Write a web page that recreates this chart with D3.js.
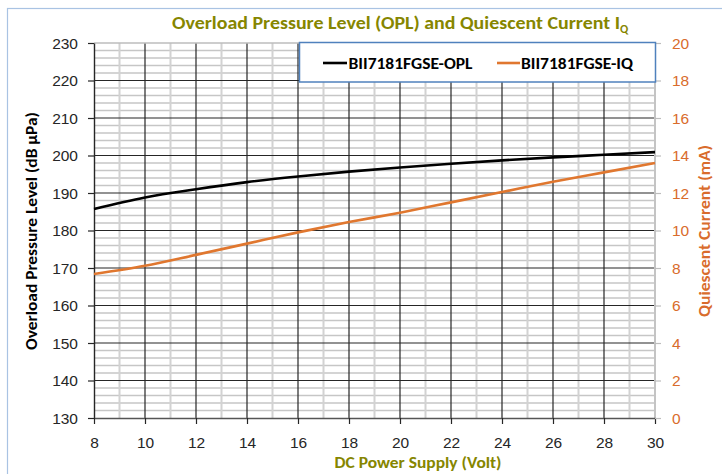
<!DOCTYPE html>
<html>
<head>
<meta charset="utf-8">
<script src="https://cdn.jsdelivr.net/npm/d3@7"></script>
<style>
  html, body { margin: 0; padding: 0; background: #fff; }
  svg { display: block; font-family: Carlito, Calibri, Lato, "Open Sans", sans-serif; }
</style>
</head>
<body>
<svg id="chart" width="722" height="474"></svg>
<script>
// ---------- data ----------
const voltage = [8, 10, 12, 14, 16, 18, 20, 22, 24, 26, 28, 30];
const oplValues = [185.7, 188.8, 191.0, 192.9, 194.4, 195.7, 196.8, 197.8, 198.7, 199.5, 200.2, 200.9];
const iqValues = [7.68, 8.12, 8.7, 9.3, 9.9, 10.45, 10.95, 11.5, 12.05, 12.6, 13.1, 13.6];
const seriesNames = ["BII7181FGSE-OPL", "BII7181FGSE-IQ"];
const xTicks = [8, 10, 12, 14, 16, 18, 20, 22, 24, 26, 28, 30];
const leftTicks = [130, 140, 150, 160, 170, 180, 190, 200, 210, 220, 230];
const rightTicks = [0, 2, 4, 6, 8, 10, 12, 14, 16, 18, 20];
const titleText = "Overload Pressure Level (OPL) and Quiescent Current I";
const titleSub = "Q";
const xTitle = "DC Power Supply (Volt)";
const yLeftTitle = "Overload Pressure Level (dB \u00B5Pa)";
const yRightTitle = "Quiescent Current (mA)";

// ---------- layout ----------
const svg = d3.select("#chart");
const L = 94, R = 655, T = 43, B = 418;
const olive = "#868600", orange = "#e0772f", orangeText = "#d96c2c";

const x = d3.scaleLinear().domain([8, 30]).range([L, R]);
const yL = d3.scaleLinear().domain([130, 230]).range([B, T]);
const yR = d3.scaleLinear().domain([0, 20]).range([B, T]);

// outer chart frame
svg.append("rect").attr("x", 7.5).attr("y", 8.5).attr("width", 800).attr("height", 600)
  .attr("fill", "#fff").attr("stroke", "#a9c3e3").attr("stroke-width", 1.2);

// ---------- grid ----------
const g = svg.append("g");
const minorH = d3.range(130, 231, 2).filter(v => v % 10 !== 0);
g.selectAll(".mh").data(minorH).join("line")
  .attr("x1", L).attr("x2", R).attr("y1", d => yL(d)).attr("y2", d => yL(d))
  .attr("stroke", "#c6c6c6").attr("stroke-width", 1.4);
const minorV = d3.range(9, 30, 2);
g.selectAll(".mv").data(minorV).join("line")
  .attr("y1", T).attr("y2", B).attr("x1", d => x(d)).attr("x2", d => x(d))
  .attr("stroke", "#d2d2d2").attr("stroke-width", 2);
g.selectAll(".Mh").data(leftTicks.filter(v => v !== 130 && v !== 230)).join("line")
  .attr("x1", L).attr("x2", R).attr("y1", d => yL(d)).attr("y2", d => yL(d))
  .attr("stroke", "#262626").attr("stroke-width", 1.2);
g.selectAll(".Mv").data(xTicks.filter(v => v !== 8 && v !== 30)).join("line")
  .attr("y1", T).attr("y2", B).attr("x1", d => x(d)).attr("x2", d => x(d))
  .attr("stroke", "#262626").attr("stroke-width", 1.2);
g.append("line").attr("x1", L).attr("x2", R).attr("y1", T).attr("y2", T)
  .attr("stroke", "#bdbdbd").attr("stroke-width", 1.5);
g.append("line").attr("x1", R).attr("x2", R).attr("y1", T).attr("y2", B)
  .attr("stroke", "#c4c4c4").attr("stroke-width", 2);

// ---------- axes ----------
const axL = svg.append("g").attr("transform", `translate(${L},0)`)
  .call(d3.axisLeft(yL).tickValues(leftTicks).tickSize(6).tickPadding(10).tickSizeOuter(0));
axL.select(".domain").attr("stroke", "#262626").attr("stroke-width", 1.4);
axL.selectAll(".tick line").attr("stroke", "#262626").attr("stroke-width", 1.2);
axL.selectAll("text").attr("font-size", 15.5).attr("fill", "#262626").attr("dy", "0.35em");

const axB = svg.append("g").attr("transform", `translate(0,${B})`)
  .call(d3.axisBottom(x).tickValues(xTicks).tickSize(6).tickPadding(10).tickSizeOuter(0));
axB.select(".domain").attr("stroke", "#555").attr("stroke-width", 1.6);
axB.selectAll(".tick line").attr("stroke", "#262626").attr("stroke-width", 1.2);
axB.selectAll("text").attr("font-size", 15.5).attr("fill", "#262626").attr("y", 29.5).attr("dy", 0);

const axR = svg.append("g").attr("transform", `translate(${R},0)`)
  .call(d3.axisRight(yR).tickValues(rightTicks).tickSize(6).tickPadding(11).tickSizeOuter(0));
axR.select(".domain").remove();
axR.selectAll(".tick line").attr("stroke", "#bdbdbd").attr("stroke-width", 1.2);
axR.selectAll("text").attr("font-size", 15.5).attr("fill", orangeText).attr("dy", "0.35em");

svg.selectAll(".tick text").attr("font-family", null);

// ---------- lines ----------
const lineL = d3.line().x((d, i) => x(voltage[i])).y(d => yL(d)).curve(d3.curveMonotoneX);
const lineR = d3.line().x((d, i) => x(voltage[i])).y(d => yR(d)).curve(d3.curveMonotoneX);
svg.append("path").datum(iqValues).attr("d", lineR)
  .attr("fill", "none").attr("stroke", orange).attr("stroke-width", 2.6);
svg.append("path").datum(oplValues).attr("d", lineL)
  .attr("fill", "none").attr("stroke", "#000").attr("stroke-width", 2.6);

// ---------- legend ----------
const lg = svg.append("g");
lg.append("rect").attr("x", 299.5).attr("y", 42.5).attr("width", 356).attr("height", 39.5)
  .attr("fill", "#fff").attr("stroke", "#4f81bd").attr("stroke-width", 1.5);
const legendItems = [
  { name: seriesNames[0], color: "#000", x1: 323, x2: 347, tx: 348.5, tw: 124 },
  { name: seriesNames[1], color: orange, x1: 497, x2: 520, tx: 521, tw: 112 }
];
legendItems.forEach(it => {
  lg.append("line").attr("x1", it.x1).attr("x2", it.x2).attr("y1", 63).attr("y2", 63)
    .attr("stroke", it.color).attr("stroke-width", 2.6);
  lg.append("text").attr("x", it.tx).attr("y", 68.5).text(it.name)
    .attr("font-size", 15.5).attr("font-weight", "bold").attr("fill", "#000")
    .attr("textLength", it.tw).attr("lengthAdjust", "spacingAndGlyphs");
});

// ---------- titles ----------
const tt = svg.append("text").attr("x", 172).attr("y", 29)
  .attr("font-size", 19).attr("font-weight", "bold").attr("fill", olive);
tt.append("tspan").text(titleText).attr("textLength", 448).attr("lengthAdjust", "spacingAndGlyphs");
tt.append("tspan").text(titleSub).attr("font-size", 12).attr("dy", 4);

svg.append("text").attr("x", 418).attr("y", 468).attr("text-anchor", "middle")
  .attr("font-size", 16).attr("font-weight", "bold").attr("fill", olive)
  .attr("textLength", 167).attr("lengthAdjust", "spacingAndGlyphs").text(xTitle);

svg.append("text").attr("transform", "translate(37,231) rotate(-90)").attr("text-anchor", "middle")
  .attr("font-size", 16).attr("font-weight", "bold").attr("fill", "#000")
  .attr("textLength", 238).attr("lengthAdjust", "spacingAndGlyphs").text(yLeftTitle);

svg.append("text").attr("transform", "translate(710,231) rotate(-90)").attr("text-anchor", "middle")
  .attr("font-size", 16).attr("font-weight", "bold").attr("fill", orangeText)
  .attr("textLength", 172).attr("lengthAdjust", "spacingAndGlyphs").text(yRightTitle);
</script>
</body>
</html>
